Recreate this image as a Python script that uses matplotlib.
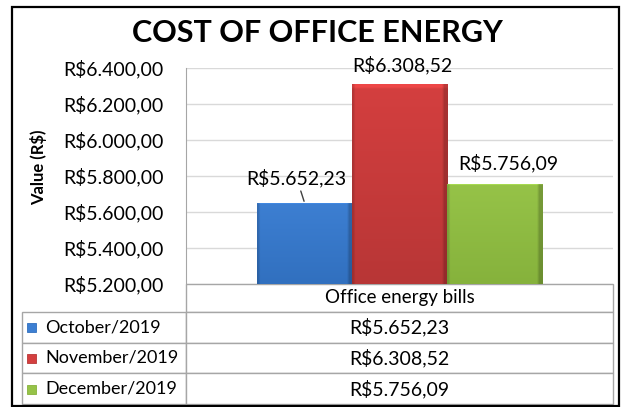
import numpy as np
import matplotlib
matplotlib.use('Agg')
import matplotlib.pyplot as plt
from matplotlib.patches import Rectangle

plt.rcParams['font.family'] = ['Lato', 'DejaVu Sans']

# data
months = ['October/2019', 'November/2019', 'December/2019']
values = [5652.23, 6308.52, 5756.09]
category = 'Office energy bills'
colors = ['#3d7fd2', '#d43f3f', '#96c348']
dark_colors = ['#3170bf', '#b83636', '#86b23c']
y_ticks = [5200, 5400, 5600, 5800, 6000, 6200, 6400]


def brl(v):
    s = f'{v:,.2f}'.replace(',', '#').replace('.', ',').replace('#', '.')
    return 'R$' + s


def to_rgb(c):
    return np.array(matplotlib.colors.to_rgb(c))


W, H = 622, 407
fig = plt.figure(figsize=(W / 100, H / 100), dpi=100)
ax = fig.add_axes([186 / W, 1 - 284 / H, 427 / W, 216 / H])

# bars (start at the axis minimum, like Excel)
base = y_ticks[0]
width = 0.2225
offsets = [-width, 0, width]
for i in range(3):
    bar = ax.bar(offsets[i], values[i] - base, width, bottom=base,
                 color=colors[i], zorder=3)[0]
    # soft bevel gradient
    top = to_rgb(colors[i])
    bot = to_rgb(dark_colors[i])
    t = np.linspace(0, 1, 100)[:, None, None]
    img = np.clip(top * (1 - t) + bot * t, 0, 1)
    img = np.repeat(img, 40, axis=1)
    edge = np.ones(40)
    edge[0] = 0.85
    edge[-2:] = 0.8
    img = img * edge[None, :, None]
    img[:2] = np.clip(img[:2] * 1.12, 0, 1)
    x0 = offsets[i] - width / 2
    im = ax.imshow(img, extent=[x0, x0 + width, base, values[i]],
                   aspect='auto', zorder=4, interpolation='bilinear')
    im.set_clip_path(bar)

ax.set_xlim(-0.5, 0.5)
ax.set_ylim(base, y_ticks[-1])
ax.set_yticks(y_ticks)
ax.set_yticklabels([brl(v) for v in y_ticks], fontsize=14)
ax.tick_params(axis='y', length=0, pad=16)
ax.set_xticks([])
ax.grid(axis='y', color='#d9d9d9', lw=1, zorder=0)
for s in ['top', 'right', 'bottom']:
    ax.spines[s].set_visible(False)
ax.spines['left'].set_color('#a6a6a6')

ax.set_ylabel('Value (R$)', fontsize=12, fontweight='bold')
ax.yaxis.set_label_coords(-0.325, 0.54)

# data labels
label_offsets = [(-8, 25), (3, 19), (14, 21)]
for i in range(3):
    dx, dy = label_offsets[i]
    ax.annotate(brl(values[i]), xy=(offsets[i], values[i]),
                xytext=(dx, dy), textcoords='offset pixels',
                ha='center', va='center', fontsize=14, annotation_clip=False,
                arrowprops=dict(arrowstyle='-', color='#404040', lw=1,
                                shrinkA=1, shrinkB=1) if i == 0 else None,
                zorder=6)

# data table (bbox covers the value column, row labels hang to the left)
tbl = ax.table(cellText=[[brl(v)] for v in values], rowLabels=months,
               colLabels=[category], cellLoc='center', rowLoc='left',
               bbox=[0, -120 / 216, 1, 120 / 216])
tbl._autoColumns = []
tbl.auto_set_font_size(False)
tbl.set_fontsize(14)
for (r, c), cell in tbl.get_celld().items():
    cell.set_edgecolor('#a6a6a6')
    cell.set_linewidth(1)
    cell.set_width(164 / 427 if c == -1 else 1.0)
    cell.set_height(28 / 216 if r == 0 else 31 / 216)
    if c == -1:
        cell.PAD = 0.14
        cell.get_text().set_fontsize(13)
    if r == 0:
        cell.get_text().set_fontsize(13.5)

# legend keys in the table
row_centers = [327.5, 358.5, 389.5]
for i in range(3):
    fig.patches.append(Rectangle((27 / W, 1 - (row_centers[i] + 4.5) / H),
                                 9 / W, 9 / H, transform=fig.transFigure,
                                 facecolor=colors[i], edgecolor=dark_colors[i],
                                 lw=0.6))

fig.text(317 / W, 1 - 33 / H, 'COST OF OFFICE ENERGY', ha='center',
         va='center', fontsize=22, fontweight='bold')

# chart border
fig.patches.append(Rectangle((12 / W, 1 / H), 607 / W, (405 - 6) / H,
                             transform=fig.transFigure, fill=False,
                             edgecolor='black', lw=1.6))

fig.savefig('out.png', dpi=100)
